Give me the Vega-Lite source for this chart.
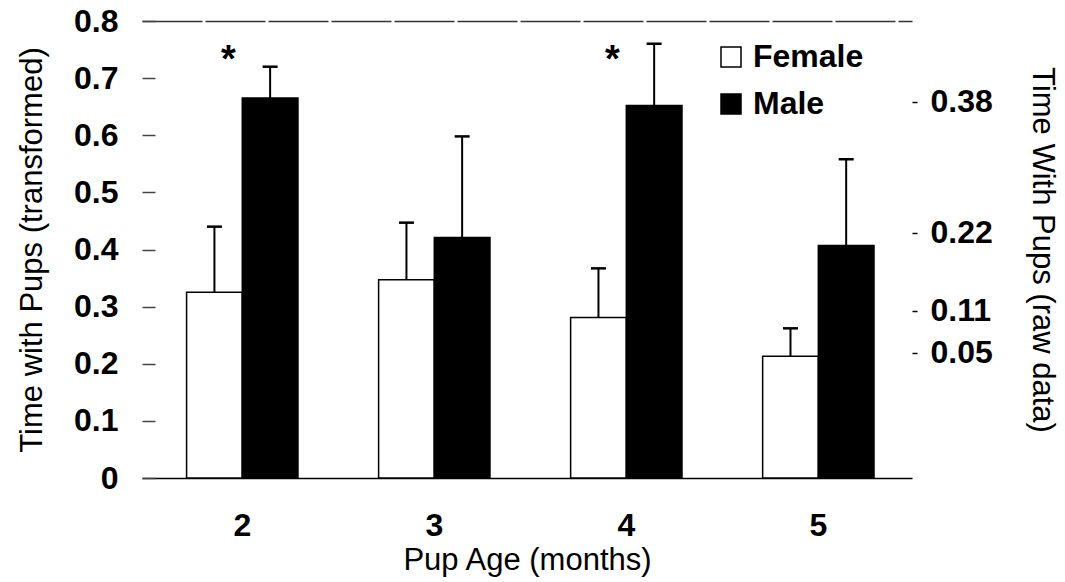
{
  "$schema": "https://vega.github.io/schema/vega-lite/v6.json",
  "width": 770,
  "height": 457,
  "autosize": {"type": "none"},
  "padding": {"left": 142, "top": 21, "right": 153, "bottom": 104},
  "background": "white",
  "config": {
    "view": {"stroke": null},
    "font": "Liberation Sans",
    "axis": {"labelColor": "black", "titleColor": "black", "labelFont": "Liberation Sans", "titleFont": "Liberation Sans"},
    "legend": {"labelFont": "Liberation Sans", "labelColor": "black"}
  },
  "datasets": {
    "bars": [
      {"age": "2", "sex": "Female", "mean": 0.325, "upper": 0.44},
      {"age": "2", "sex": "Male", "mean": 0.665, "upper": 0.72},
      {"age": "3", "sex": "Female", "mean": 0.347, "upper": 0.447},
      {"age": "3", "sex": "Male", "mean": 0.421, "upper": 0.598},
      {"age": "4", "sex": "Female", "mean": 0.281, "upper": 0.367},
      {"age": "4", "sex": "Male", "mean": 0.652, "upper": 0.76},
      {"age": "5", "sex": "Female", "mean": 0.213, "upper": 0.262},
      {"age": "5", "sex": "Male", "mean": 0.407, "upper": 0.558}
    ],
    "stars": [
      {"age": "2", "label": "*", "pos": 0.71},
      {"age": "4", "label": "*", "pos": 0.71}
    ],
    "raw": [
      {"pos": 0.659, "raw": "0.38"},
      {"pos": 0.429, "raw": "0.22"},
      {"pos": 0.293, "raw": "0.11"},
      {"pos": 0.219, "raw": "0.05"}
    ]
  },
  "layer": [
    {
      "layer": [
        {
          "data": {"name": "bars"},
          "mark": {"type": "bar", "stroke": "black", "strokeWidth": 1.5},
          "encoding": {
            "x": {"field": "age", "type": "nominal", "scale": {"paddingInner": 0.42, "paddingOuter": 0.215, "align": 0.54},
              "axis": {"title": "Pup Age (months)", "labelAngle": 0, "tickSize": 0, "domain": true, "domainColor": "black", "domainWidth": 1.5, "labelPadding": 32, "labelFontSize": 32, "labelFontWeight": "bold", "titleFontSize": 31, "titleFontWeight": "normal", "titlePadding": 4, "grid": false}},
            "xOffset": {"field": "sex", "type": "nominal", "scale": {"domain": ["Female", "Male"]}},
            "y": {"field": "mean", "type": "quantitative", "scale": {"domain": [0, 0.8]},
              "axis": {"title": "Time with Pups (transformed)", "values": [0, 0.1, 0.2, 0.3, 0.4, 0.5, 0.6, 0.7, 0.8], "labelExpr": "datum.value == 0 ? '0' : format(datum.value, '.1f')", "domain": false, "tickSize": -13, "tickColor": "#444", "tickWidth": 1.5, "labelPadding": 37, "labelFontSize": 32, "labelFontWeight": "bold", "titleFontSize": 31, "titleFontWeight": "normal", "titlePadding": 25, "grid": true, "gridColor": {"condition": {"test": "datum.value > 0.79", "value": "#333"}, "value": "transparent"}, "gridWidth": 1.5, "gridDash": [60, 3]}},
            "fill": {"field": "sex", "type": "nominal", "scale": {"domain": ["Female", "Male"], "range": ["white", "black"]},
              "legend": {"title": null, "orient": "none", "legendX": 573, "legendY": 20, "symbolType": "square", "symbolSize": 400, "symbolStrokeColor": "black", "symbolStrokeWidth": 1.5, "labelFontSize": 32, "labelFontWeight": "bold", "labelOffset": 6, "rowPadding": 15, "padding": 0}}
          }
        },
        {
          "data": {"name": "bars"},
          "mark": {"type": "rule", "stroke": "black", "strokeWidth": 2},
          "encoding": {
            "x": {"field": "age", "type": "nominal"},
            "xOffset": {"field": "sex", "type": "nominal", "scale": {"domain": ["Female", "Male"]}},
            "y": {"field": "mean", "type": "quantitative", "title": "Time with Pups (transformed)"},
            "y2": {"field": "upper"}
          }
        },
        {
          "data": {"name": "bars"},
          "mark": {"type": "tick", "color": "black", "thickness": 2.5, "size": 15, "opacity": 1},
          "encoding": {
            "x": {"field": "age", "type": "nominal"},
            "xOffset": {"field": "sex", "type": "nominal", "scale": {"domain": ["Female", "Male"]}},
            "y": {"field": "upper", "type": "quantitative", "title": "Time with Pups (transformed)"}
          }
        },
        {
          "data": {"name": "stars"},
          "mark": {"type": "text", "fontSize": 38, "fontWeight": "bold", "dx": -14, "baseline": "alphabetic", "color": "black"},
          "encoding": {
            "x": {"field": "age", "type": "nominal"},
            "y": {"field": "pos", "type": "quantitative", "title": "Time with Pups (transformed)"},
            "text": {"field": "label"}
          }
        }
      ]
    },
    {
      "data": {"name": "raw"},
      "mark": {"type": "tick", "opacity": 0},
      "encoding": {
        "y": {"field": "pos", "type": "quantitative", "scale": {"domain": [0, 0.8]},
          "axis": {"orient": "right", "title": "Time With Pups (raw data)", "values": [0.219, 0.293, 0.429, 0.659], "labelExpr": "datum.value < 0.25 ? '0.05' : datum.value < 0.35 ? '0.11' : datum.value < 0.5 ? '0.22' : '0.38'", "domain": false, "tickSize": 5, "tickColor": "black", "tickWidth": 1.5, "labelPadding": 13, "labelFontSize": 32, "labelFontWeight": "bold", "titleFontSize": 31, "titleFontWeight": "normal", "titlePadding": 33, "grid": false}}
      }
    }
  ],
  "resolve": {"scale": {"y": "independent"}}
}
